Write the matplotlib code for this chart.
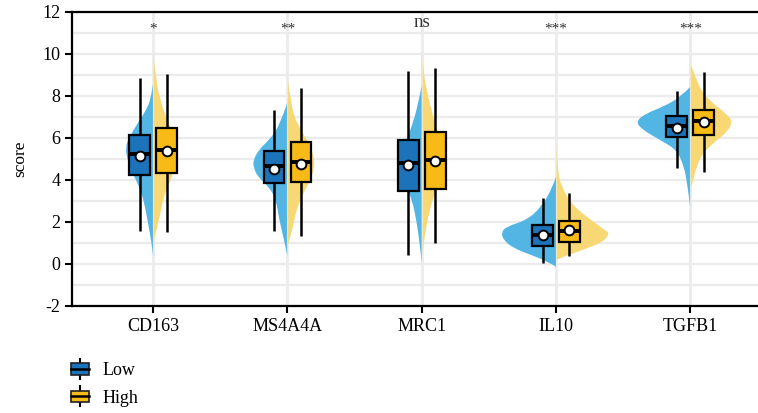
import numpy as np
import matplotlib
matplotlib.use('Agg')
import matplotlib.pyplot as plt
from matplotlib.patches import Rectangle, PathPatch
from matplotlib.path import Path
from matplotlib.lines import Line2D
from matplotlib.legend_handler import HandlerBase

plt.rcParams['font.family'] = ['Liberation Serif', 'DejaVu Serif']
plt.rcParams['axes.unicode_minus'] = False

# Datos
genes = ['CD163', 'MS4A4A', 'MRC1', 'IL10', 'TGFB1']
signif = ['*', '**', 'ns', '***', '***']
groups = ['Low', 'High']

low_min = [1.57, 1.59, 0.45, 0.06, 4.58]
low_q1 = [4.24, 3.84, 3.49, 0.86, 6.04]
low_med = [5.24, 4.68, 4.83, 1.40, 6.58]
low_q3 = [6.14, 5.40, 5.90, 1.86, 7.03]
low_max = [8.86, 7.33, 9.21, 3.16, 8.25]
low_mean = [5.14, 4.54, 4.71, 1.40, 6.47]

high_min = [1.52, 1.32, 0.98, 0.36, 4.36]
high_q1 = [4.32, 3.89, 3.58, 1.06, 6.12]
high_med = [5.43, 4.88, 4.93, 1.57, 6.82]
high_q3 = [6.46, 5.81, 6.30, 2.05, 7.35]
high_max = [9.05, 8.37, 9.32, 3.38, 9.16]
high_mean = [5.38, 4.75, 4.90, 1.62, 6.75]

# perfiles de densidad (score, ancho relativo)
low_dens_y = [
    [8.6, 8.0, 7.49, 6.70, 6.06, 5.59, 4.95, 4.32, 3.52, 2.73, 1.94, 1.14, 0.35],
    [7.7, 6.54, 5.90, 5.43, 4.95, 4.63, 4.16, 3.68, 3.05, 2.10, 1.30, 0.35],
    [8.5, 7.5, 6.5, 5.5, 4.7, 3.8, 3.0, 2.0, 1.0, 0.05],
    [4.16, 3.68, 2.73, 2.10, 1.78, 1.51, 1.14, 0.75, 0.43, 0.11, -0.13],
    [8.44, 7.97, 7.49, 7.17, 6.78, 6.38, 5.90, 5.43, 4.63, 3.84, 2.7],
]
low_dens_w = [
    [0, 2, 5, 15, 23, 27, 25, 20, 12, 8, 5, 2, 0],
    [0, 8, 18, 28, 33, 33, 29, 18, 11, 8, 4, 0],
    [0, 4, 10, 18, 21, 16, 9, 5, 2, 0],
    [0, 3, 14, 28, 48, 53, 51, 41, 24, 8, 0],
    [0, 9, 26, 43, 53, 46, 29, 13, 6, 3, 0],
]
high_dens_y = [
    [10.1, 8.6, 7.81, 7.02, 6.38, 5.59, 4.79, 4.0, 3.21, 2.41, 1.62, 0.98],
    [8.9, 7.33, 6.54, 5.90, 5.11, 4.48, 3.68, 3.05, 2.25, 1.46, 0.82],
    [10.0, 9.0, 8.0, 7.0, 6.0, 5.0, 4.0, 3.0, 2.0, 1.0, 0.3],
    [5.9, 4.5, 3.68, 2.73, 2.10, 1.62, 1.47, 1.06, 0.67, 0.35, 0.19],
    [9.56, 8.76, 8.13, 7.57, 7.10, 6.78, 6.30, 5.83, 5.27, 4.63, 3.84, 3.52],
]
high_dens_w = [
    [0, 3, 7, 12, 18, 22, 22, 17, 10, 7, 3, 0],
    [0, 4, 11, 19, 26, 26, 19, 12, 7, 4, 0],
    [0, 2, 6, 11, 17, 20, 17, 10, 5, 2, 0],
    [0, 1.5, 5, 17, 34, 47, 52, 46, 26, 7, 0],
    [0, 6, 12, 24, 36, 41, 36, 24, 12, 6, 2, 0],
]

# Estilo
violin_colors = {'Low': '#52B5E3', 'High': '#F8D874'}
box_colors = {'Low': '#1C73B9', 'High': '#F7BA16'}
dens_scale = 1 / 130.0
offset = 0.1
box_w = 0.155


def half_violin(xc, ys, ws, side, color):
    # contorno suavizado con curvas cuadráticas
    pts = [(xc + side * w, y) for y, w in zip(ys, ws)]
    verts = [pts[0]]
    codes = [Path.MOVETO]
    for k in range(1, len(pts) - 1):
        mid = ((pts[k][0] + pts[k + 1][0]) / 2, (pts[k][1] + pts[k + 1][1]) / 2)
        if k == len(pts) - 2:
            mid = pts[-1]
        verts += [pts[k], mid]
        codes += [Path.CURVE3, Path.CURVE3]
    verts += [(xc, ys[-1]), (xc, ys[0]), (xc, ys[0])]
    codes += [Path.LINETO, Path.LINETO, Path.CLOSEPOLY]
    return PathPatch(Path(verts, codes), facecolor=color, lw=0, zorder=1)


fig = plt.figure(figsize=(7.58, 4.13), dpi=100)
ax = fig.add_axes([72 / 758, 1 - 306 / 413, 1 - 72 / 758 + 0.001, (306 - 12) / 413])

x = np.arange(1, len(genes) + 1)

# rejilla
for yv in range(-2, 13):
    ax.axhline(yv, color='#EBEBEB', lw=1.6, zorder=0)
for xv in x:
    ax.axvline(xv, color='#EBEBEB', lw=2.0, zorder=0)

stats = {
    'Low': (low_min, low_q1, low_med, low_q3, low_max, low_mean, low_dens_y, low_dens_w, -1),
    'High': (high_min, high_q1, high_med, high_q3, high_max, high_mean, high_dens_y, high_dens_w, 1),
}

for g in groups:
    vmin, q1, med, q3, vmax, mean, dy, dw, side = stats[g]
    for i, xc in enumerate(x):
        ww = np.array(dw[i]) * dens_scale
        ax.add_patch(half_violin(xc, dy[i], ww, side, violin_colors[g]))
        bx = xc + side * offset
        ax.plot([bx, bx], [vmin[i], vmax[i]], color='black', lw=1.8, zorder=3,
                solid_capstyle='butt')
        ax.add_patch(Rectangle((bx - box_w / 2, q1[i]), box_w, q3[i] - q1[i],
                               facecolor=box_colors[g], edgecolor='black', lw=1.6, zorder=4))
        ax.plot([bx - box_w / 2, bx + box_w / 2], [med[i], med[i]], color='black',
                lw=2.8, zorder=5, solid_capstyle='butt')
        ax.plot(bx, mean[i], 'o', ms=7, mfc='white', mec='black', mew=1.4, zorder=6)

for xv in x:
    ax.axvline(xv, color='#EEEEEE', lw=0.9, alpha=0.6, zorder=2)

for xc, s in zip(x, signif):
    ax.text(xc, 11.5 if s == 'ns' else 11.2, s, ha='center', va='center',
            fontsize=13.5 if s == 'ns' else 11, color='#333333')

ax.set_xlim(0.395, 5.51)
ax.set_ylim(-2, 12)
ax.set_yticks(range(-2, 13, 2))
ax.set_xticks(x)
ax.set_xticklabels(genes)
ax.set_ylabel('score', fontsize=12.5, labelpad=10)
ax.tick_params(axis='both', labelsize=13, length=5, width=1.5, color='black')
for sp in ['left', 'bottom', 'top']:
    ax.spines[sp].set_linewidth(1.6)
ax.spines['right'].set_visible(False)


class HandlerBox(HandlerBase):
    def create_artists(self, legend, orig_handle, xdescent, ydescent, width, height,
                       fontsize, trans):
        cx = width / 2 - xdescent
        cy = height / 2 - ydescent
        bw, bh = width * 0.95, height * 0.72
        wl = Line2D([cx, cx], [cy - height * 0.62, cy + height * 0.62], color='black',
                    lw=1.5, transform=trans)
        box = Rectangle((cx - bw / 2, cy - bh / 2), bw, bh, facecolor=orig_handle.get_facecolor(),
                        edgecolor='#222222', lw=1.2, transform=trans)
        md = Line2D([cx - bw / 2, cx + bw / 2], [cy, cy], color='black', lw=1.8, transform=trans)
        return [wl, box, md]


handles = [Rectangle((0, 0), 1, 1, facecolor=box_colors[g]) for g in groups]
fig.legend(handles, groups, handler_map={Rectangle: HandlerBox()},
           loc='upper left', bbox_to_anchor=(71 / 758, 1 - 361 / 413), frameon=False,
           fontsize=13, handlelength=1.0, handleheight=1.0, handletextpad=0.75,
           labelspacing=0.5, borderpad=0, borderaxespad=0)

fig.savefig('out.png', dpi=100)
